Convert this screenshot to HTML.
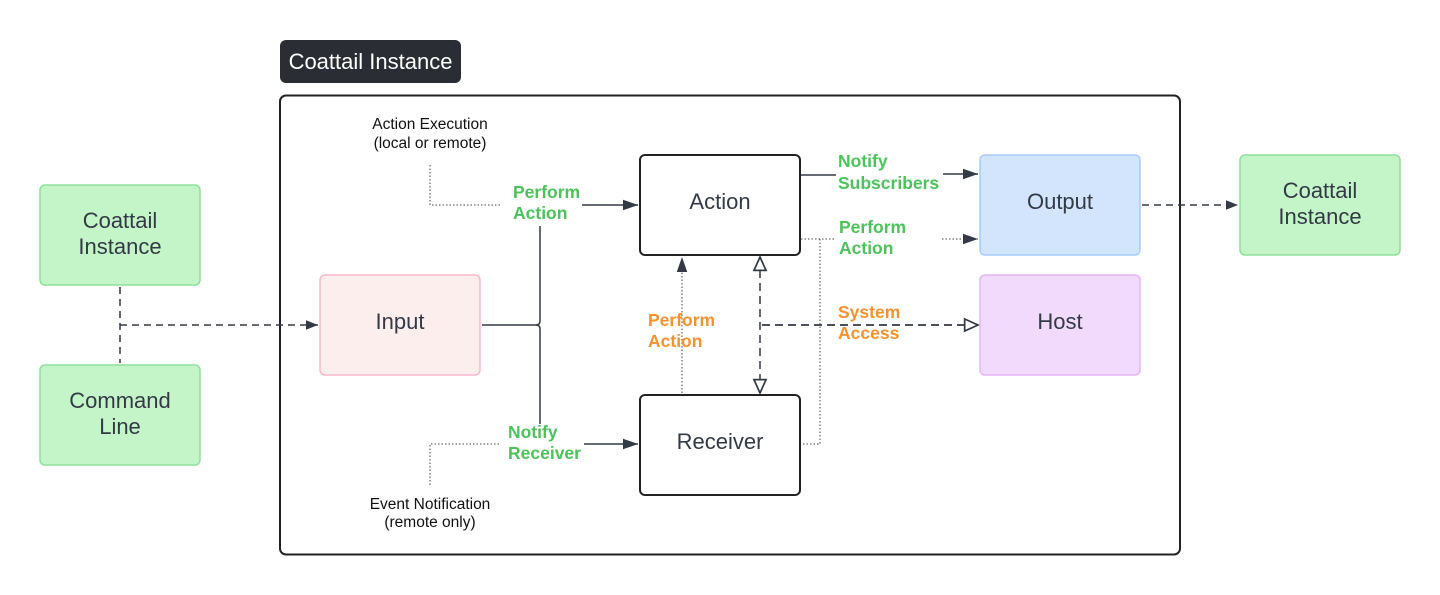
<!DOCTYPE html>
<html><head><meta charset="utf-8"><style>html,body{margin:0;padding:0;background:#fff}svg{display:block}</style></head>
<body>
<svg width="1440" height="595" viewBox="0 0 1440 595" xmlns="http://www.w3.org/2000/svg" font-family="Liberation Sans, sans-serif">
<defs>
<marker id="af" viewBox="0 0 10 10" refX="10" refY="5" markerWidth="12" markerHeight="12" orient="auto" markerUnits="userSpaceOnUse"><path d="M0,1 L10,5 L0,9 z" fill="#333a45"/></marker>
<marker id="afl" viewBox="0 0 10 10" refX="10" refY="5" markerWidth="15" markerHeight="15" orient="auto" markerUnits="userSpaceOnUse"><path d="M0,1.5 L10,5 L0,8.5 z" fill="#333a45"/></marker>
<marker id="ah" viewBox="0 0 12 12" refX="11" refY="6" markerWidth="16" markerHeight="16" orient="auto-start-reverse" markerUnits="userSpaceOnUse"><path d="M1,1.5 L11,6 L1,10.5 z" fill="#fff" stroke="#333a45" stroke-width="1.3"/></marker>
</defs>
<rect x="280" y="40" width="181" height="43" rx="6" fill="#2a2d33"/>
<text x="370.5" y="69" font-size="22" fill="#fff" text-anchor="middle">Coattail Instance</text>
<rect x="280" y="95.5" width="900" height="459" rx="6" fill="none" stroke="#222" stroke-width="2"/>

<g stroke-width="1.5">
<rect x="40" y="185" width="160" height="100" rx="5" fill="#c3f5c8" stroke="#8fe09a"/>
<rect x="40" y="365" width="160" height="100" rx="5" fill="#c3f5c8" stroke="#8fe09a"/>
<rect x="1240" y="155" width="160" height="100" rx="5" fill="#c3f5c8" stroke="#8fe09a"/>
<rect x="320" y="275" width="160" height="100" rx="5" fill="#fdeeee" stroke="#f9b8cc"/>
<rect x="980" y="155" width="160" height="100" rx="5" fill="#d2e5fd" stroke="#a8cdf8"/>
<rect x="980" y="275" width="160" height="100" rx="5" fill="#f2dafd" stroke="#e5b5f5"/>
</g>
<rect x="640" y="155" width="160" height="100" rx="5" fill="#fff" stroke="#222" stroke-width="2"/>
<rect x="640" y="395" width="160" height="100" rx="5" fill="#fff" stroke="#222" stroke-width="2"/>

<g font-size="22" fill="#333a45" text-anchor="middle">
<text x="120" y="228">Coattail</text><text x="120" y="254">Instance</text>
<text x="120" y="408">Command</text><text x="120" y="434">Line</text>
<text x="1320" y="198">Coattail</text><text x="1320" y="224">Instance</text>
<text x="400" y="329">Input</text>
<text x="720" y="209">Action</text>
<text x="720" y="449">Receiver</text>
<text x="1060" y="209">Output</text>
<text x="1060" y="329">Host</text>
</g>

<g font-size="15.5" fill="#111" text-anchor="middle">
<text x="430" y="129">Action Execution</text><text x="430" y="148">(local or remote)</text>
<text x="430" y="509">Event Notification</text><text x="430" y="527">(remote only)</text>
</g>

<g fill="none" stroke="#333a45" stroke-width="1.5">
<path d="M120,287 V363" stroke-dasharray="7,5"/>
<path d="M120,325 H318" stroke-dasharray="7,5" marker-end="url(#af)"/>
<path d="M482,325 H536 Q540,325 540,321 V226"/>
<path d="M536,325 Q540,325 540,329 V424"/>
<path d="M582,205 H638" marker-end="url(#afl)"/>
<path d="M584,444 H638" marker-end="url(#afl)"/>
<path d="M801,175 H836"/>
<path d="M943,174 H978" marker-end="url(#afl)"/>
<path d="M1142,205 H1238" stroke-dasharray="7,5" marker-end="url(#af)"/>
<path d="M760,257 V393" stroke-dasharray="8,5" marker-start="url(#ah)" marker-end="url(#ah)"/>
<path d="M762,325 H978" stroke-dasharray="8,5" stroke-width="1.8" marker-end="url(#ah)"/>
</g>
<g fill="none" stroke="#444" stroke-width="1" stroke-dasharray="1.5,2">
<path d="M430,165 V205 H500"/>
<path d="M430,485 V444 H500"/>
<path d="M801,239 H836"/>
<path d="M820,239 V444 H801"/>
<path d="M942,239 H978" marker-end="url(#afl)"/>
<path d="M682,393 V257" marker-end="url(#afl)"/>
</g>

<g font-size="17.5" font-weight="bold" fill="#4cc25a">
<text x="513" y="198">Perform</text><text x="513" y="219">Action</text>
<text x="508" y="438">Notify</text><text x="508" y="459">Receiver</text>
<text x="838" y="167">Notify</text><text x="838" y="189">Subscribers</text>
<text x="839" y="233">Perform</text><text x="839" y="254">Action</text>
</g>
<g font-size="17.5" font-weight="bold" fill="#f5922e">
<text x="648" y="326">Perform</text><text x="648" y="347">Action</text>
<text x="838" y="318">System</text><text x="838" y="339">Access</text>
</g>
</svg>
</body></html>
